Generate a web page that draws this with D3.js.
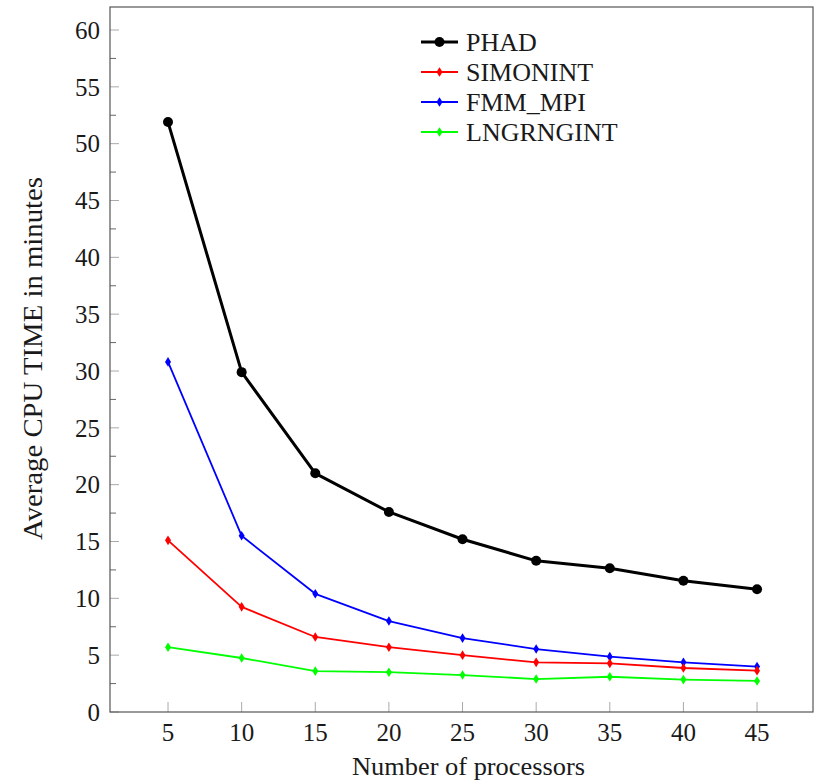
<!DOCTYPE html>
<html><head><meta charset="utf-8">
<script src="https://cdn.jsdelivr.net/npm/d3@7"></script>
<style>body{margin:0;background:#fff;} text{font-family:"Liberation Serif","DejaVu Serif",serif;fill:#1a1a1a;}</style>
</head><body>
<svg id="c" width="815" height="780"></svg>
<script>
const processors = [5, 10, 15, 20, 25, 30, 35, 40, 45];
const phad = [51.9, 29.9, 21.0, 17.6, 15.2, 13.3, 12.65, 11.55, 10.8];
const simonint = [15.1, 9.25, 6.6, 5.7, 5.0, 4.37, 4.28, 3.87, 3.64];
const fmmMpi = [30.8, 15.5, 10.4, 8.0, 6.5, 5.54, 4.87, 4.37, 4.0];
const lngrngint = [5.7, 4.75, 3.6, 3.5, 3.25, 2.9, 3.1, 2.85, 2.73];
const seriesNames = ["PHAD", "SIMONINT", "FMM_MPI", "LNGRNGINT"];
const yTicks = [0, 5, 10, 15, 20, 25, 30, 35, 40, 45, 50, 55, 60];

const svg = d3.select("#c");
const L = 110, R = 813, T = 7, B = 712;
const x = d3.scaleLinear().domain([1.06, 48.8]).range([L, R]);
const y = d3.scaleLinear().domain([0, 60]).range([B, 30]);

const series = [
  {name: seriesNames[0], vals: phad, color: "#000000", w: 3, marker: "circle"},
  {name: seriesNames[1], vals: simonint, color: "#ff0000", w: 1.8, marker: "diamond"},
  {name: seriesNames[2], vals: fmmMpi, color: "#0000ff", w: 1.8, marker: "diamond"},
  {name: seriesNames[3], vals: lngrngint, color: "#00ff00", w: 1.8, marker: "diamond"}
];

// ticks
const minor = d3.range(2.5, 62.5, 5);
svg.append("g").selectAll("line.minor").data(minor).join("line")
  .attr("x1", L).attr("x2", L + 6).attr("y1", d => y(d)).attr("y2", d => y(d))
  .attr("stroke", "#666").attr("stroke-width", 1);
svg.append("g").selectAll("line.major").data(yTicks).join("line")
  .attr("x1", L).attr("x2", L + 9).attr("y1", d => y(d)).attr("y2", d => y(d))
  .attr("stroke", "#aaa").attr("stroke-width", 1);
svg.append("g").selectAll("line.xt").data(processors).join("line")
  .attr("x1", d => x(d)).attr("x2", d => x(d)).attr("y1", B).attr("y2", B - 10)
  .attr("stroke", "#aaa").attr("stroke-width", 1);

// tick labels
svg.append("g").selectAll("text").data(yTicks).join("text")
  .attr("x", L - 10).attr("y", d => y(d)).attr("dy", "0.35em")
  .attr("text-anchor", "end").attr("font-size", 25).text(d => d);
svg.append("g").selectAll("text").data(processors).join("text")
  .attr("x", d => x(d)).attr("y", 732).attr("dy", "0.35em")
  .attr("text-anchor", "middle").attr("font-size", 25).text(d => d);

// frame
svg.append("rect").attr("x", L).attr("y", T).attr("width", R - L).attr("height", B - T)
  .attr("fill", "none").attr("stroke", "#555").attr("stroke-width", 1.2);

// axis titles
svg.append("text").attr("x", 468.5).attr("y", 766).attr("dy", "0.35em")
  .attr("text-anchor", "middle").attr("font-size", 26)
  .attr("textLength", 233).attr("lengthAdjust", "spacingAndGlyphs").text("Number of processors");
svg.append("text").attr("transform", "translate(33,358.5) rotate(-90)").attr("dy", "0.35em")
  .attr("text-anchor", "middle").attr("font-size", 27)
  .attr("textLength", 363).attr("lengthAdjust", "spacingAndGlyphs").text("Average CPU TIME in minutes");

const line = d3.line().x((d, i) => x(processors[i])).y(d => y(d));
const diamond = "M0,-4.8L3,0L0,4.8L-3,0Z";

function drawMarker(g, s, cx, cy) {
  if (s.marker === "circle") {
    g.append("circle").attr("cx", cx).attr("cy", cy).attr("r", 5).attr("fill", s.color);
  } else {
    g.append("path").attr("d", diamond).attr("transform", `translate(${cx},${cy})`).attr("fill", s.color);
  }
}

series.slice().reverse().forEach(s => {
  const g = svg.append("g");
  g.append("path").datum(s.vals).attr("d", line).attr("fill", "none")
    .attr("stroke", s.color).attr("stroke-width", s.w).attr("stroke-linejoin", "round");
  s.vals.forEach((v, i) => drawMarker(g, s, x(processors[i]), y(v)));
});

// legend
series.forEach((s, i) => {
  const g = svg.append("g");
  const ly = 42 + i * 30;
  g.append("line").attr("x1", 421).attr("x2", 458).attr("y1", ly).attr("y2", ly)
    .attr("stroke", s.color).attr("stroke-width", s.w);
  drawMarker(g, s, 439.5, ly);
  g.append("text").attr("x", 466).attr("y", ly).attr("dy", "0.35em")
    .attr("font-size", 26).text(s.name);
});
</script>
</body></html>
